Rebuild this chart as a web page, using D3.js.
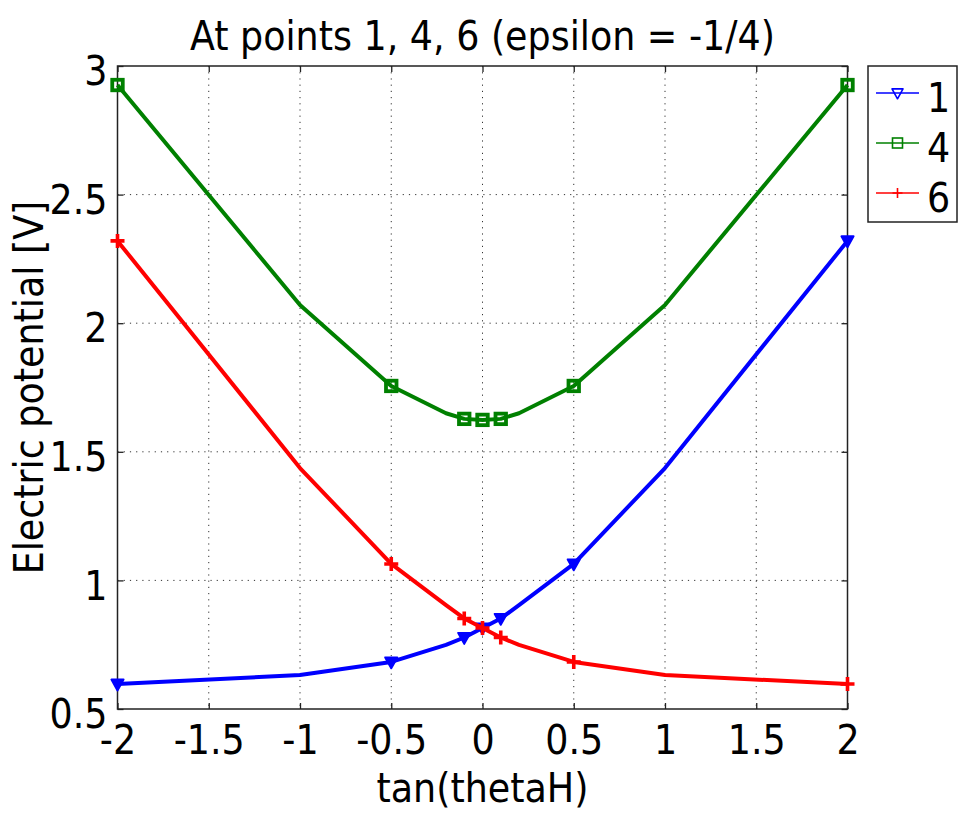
<!DOCTYPE html>
<html><head><meta charset="utf-8">
<script src="https://cdn.jsdelivr.net/npm/d3@7/dist/d3.min.js"></script>
<style>body{margin:0;background:#fff}text{font-family:"DejaVu Sans Condensed","DejaVu Sans";font-stretch:condensed}</style>
</head><body><svg id="c" width="962" height="827"></svg>
<script>
const xValues = [-2, -1, -0.5, -0.2, -0.1, 0, 0.1, 0.2, 0.5, 1, 2];
const markerShown = [true, false, true, false, true, true, true, false, true, false, true];
const series1 = [0.597, 0.632, 0.683, 0.749, 0.778, 0.815, 0.852, 0.904, 1.064, 1.437, 2.32];
const series4 = [2.926, 2.071, 1.756, 1.650, 1.628, 1.624, 1.628, 1.650, 1.756, 2.071, 2.926];
const series6 = [2.32, 1.437, 1.064, 0.904, 0.852, 0.815, 0.778, 0.749, 0.683, 0.632, 0.597];
const seriesNames = ["1", "4", "6"];
const seriesColors = ["#0000ff", "#008000", "#ff0000"];
const seriesMarkers = ["triangleDown", "square", "plus"];
const xTicks = [-2, -1.5, -1, -0.5, 0, 0.5, 1, 1.5, 2];
const yTicks = [0.5, 1, 1.5, 2, 2.5, 3];
const titleText = "At points 1, 4, 6 (epsilon = -1/4)";
const xLabel = "tan(thetaH)";
const yLabel = "Electric potential [V]";

const allSeries = [series1, series4, series6];
const svg = d3.select("#c");
const L = 117.5, R = 847.5, T = 66, B = 709;
const x = d3.scaleLinear().domain([-2, 2]).range([L, R]);
const y = d3.scaleLinear().domain([0.5, 3]).range([B, T]);
const fs = 40.5;

// grid
const g = svg.append("g");
g.selectAll(".gx").data(xTicks.slice(1, -1)).enter().append("line")
  .attr("x1", d => x(d)).attr("x2", d => x(d)).attr("y1", T).attr("y2", B)
  .attr("stroke", "#333").attr("stroke-width", 1).attr("stroke-dasharray", "1.2,5");
g.selectAll(".gy").data(yTicks.slice(1, -1)).enter().append("line")
  .attr("y1", d => y(d)).attr("y2", d => y(d)).attr("x1", L).attr("x2", R)
  .attr("stroke", "#333").attr("stroke-width", 1).attr("stroke-dasharray", "1.2,5");

// axes with inward ticks
const tl = 6;
const axB = d3.axisBottom(x).tickValues(xTicks).tickSize(-tl).tickPadding(45).tickFormat(d => String(d));
const axL = d3.axisLeft(y).tickValues(yTicks).tickSize(-tl).tickPadding(10).tickFormat(d => String(d));
const axT = d3.axisTop(x).tickValues(xTicks).tickSize(-tl).tickFormat("");
const axR = d3.axisRight(y).tickValues(yTicks).tickSize(-tl).tickFormat("");
function styleAx(sel) {
  sel.select(".domain").remove();
  sel.selectAll("line").attr("stroke", "#222").attr("stroke-width", 1.3);
  sel.selectAll("text").attr("font-size", fs).attr("fill", "#000")
    .style("font-family", '"DejaVu Sans Condensed","DejaVu Sans"');
}
svg.append("g").attr("transform", `translate(0,${B})`).call(axB).call(styleAx)
  .selectAll("text").attr("dy", "0");
svg.append("g").attr("transform", `translate(${L},0)`).call(axL).call(styleAx)
  .selectAll("text").attr("dy", "0.46em");
svg.append("g").attr("transform", `translate(0,${T})`).call(axT).call(styleAx);
svg.append("g").attr("transform", `translate(${R},0)`).call(axR).call(styleAx);

svg.append("rect").attr("x", L).attr("y", T).attr("width", R - L).attr("height", B - T)
  .attr("fill", "none").attr("stroke", "#222").attr("stroke-width", 1.5);

// markers
function drawMarker(sel, type, cx, cy, size, color, sw, filled) {
  if (type === "square") {
    sel.append("rect").attr("x", cx - size / 2).attr("y", cy - size / 2).attr("width", size).attr("height", size)
      .attr("fill", "none").attr("stroke", color).attr("stroke-width", sw);
  } else if (type === "triangleDown") {
    const h = size * 0.55;
    sel.append("path").attr("d", `M${cx - h},${cy - h * 0.75}L${cx + h},${cy - h * 0.75}L${cx},${cy + h * 1.05}Z`)
      .attr("fill", filled ? color : "none").attr("stroke", color).attr("stroke-width", sw).attr("stroke-linejoin", "round");
  } else {
    const h = size / 2;
    sel.append("path").attr("d", `M${cx - h},${cy}L${cx + h},${cy}M${cx},${cy - h}L${cx},${cy + h}`)
      .attr("stroke", color).attr("stroke-width", sw);
  }
}

const line = d3.line().x(d => x(d[0])).y(d => y(d[1]));
const plot = svg.append("g");
const mSize = [11, 10.5, 14];
const mSw = [2, 3.8, 3.6];
allSeries.forEach((s, i) => {
  const pts = xValues.map((xv, j) => [xv, s[j]]);
  plot.append("path").attr("d", line(pts)).attr("fill", "none")
    .attr("stroke", seriesColors[i]).attr("stroke-width", 4).attr("stroke-linejoin", "round");
  pts.forEach((p, j) => {
    if (markerShown[j]) drawMarker(plot, seriesMarkers[i], x(p[0]), y(p[1]), mSize[i], seriesColors[i], mSw[i], true);
  });
});

// title and labels
svg.append("text").attr("x", (L + R) / 2).attr("y", 50).attr("text-anchor", "middle")
  .attr("font-size", fs).text(titleText);
svg.append("text").attr("x", (L + R) / 2).attr("y", 802).attr("text-anchor", "middle")
  .attr("font-size", fs).text(xLabel);
svg.append("text").attr("transform", `translate(43,${(T + B) / 2}) rotate(-90)`).attr("text-anchor", "middle")
  .attr("font-size", fs).text(yLabel);

// legend
const lg = svg.append("g");
lg.append("rect").attr("x", 868).attr("y", 66).attr("width", 89).attr("height", 156)
  .attr("fill", "#fff").attr("stroke", "#222").attr("stroke-width", 1.5);
seriesNames.forEach((n, i) => {
  const ly = 93 + i * 50;
  lg.append("line").attr("x1", 876).attr("x2", 919).attr("y1", ly).attr("y2", ly)
    .attr("stroke", seriesColors[i]).attr("stroke-width", 1.6);
  drawMarker(lg, seriesMarkers[i], 897.5, ly, 10, seriesColors[i], 1.6, false);
  lg.append("text").attr("x", 927).attr("y", ly).attr("dy", "0.47em").attr("font-size", fs).text(n);
});
</script></body></html>
